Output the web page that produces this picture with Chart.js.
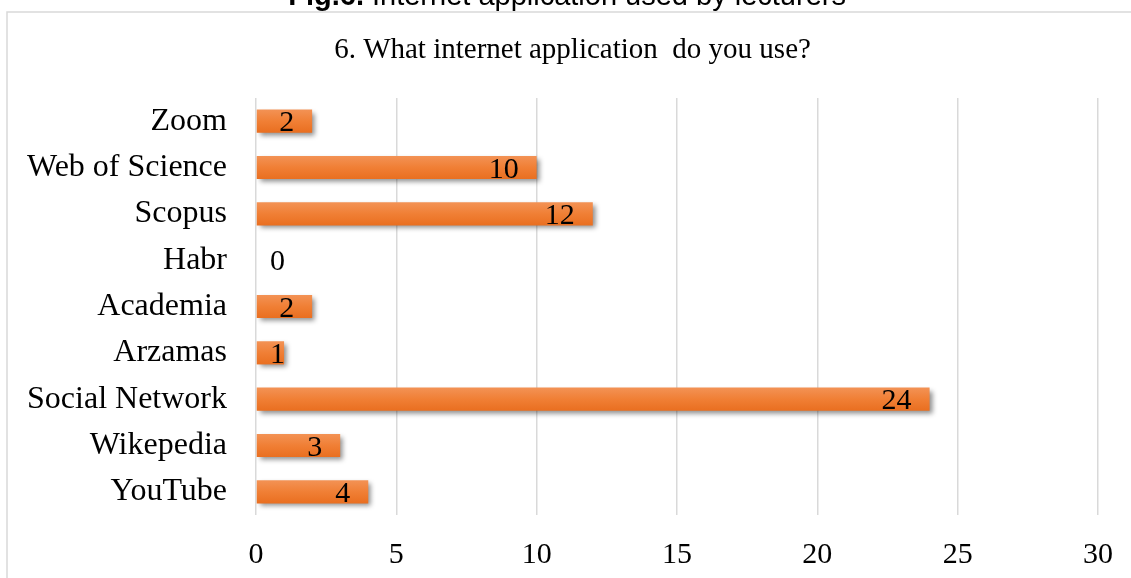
<!DOCTYPE html>
<html>
<head>
<meta charset="utf-8">
<script src="https://cdn.jsdelivr.net/npm/chart.js@4.4.1/dist/chart.umd.min.js"></script>
<style>
  html, body { margin: 0; padding: 0; background: #ffffff; overflow: hidden; }
  #wrap { width: 1131px; height: 578px; position: relative; }
</style>
</head>
<body>
<div id="wrap"><canvas id="c" width="1131" height="578"></canvas></div>
<script>
const categories = ["Zoom", "Web of Science", "Scopus", "Habr", "Academia", "Arzamas", "Social Network", "Wikepedia", "YouTube"];
const values = [2, 10, 12, 0, 2, 1, 24, 3, 4];
const xTicks = [0, 5, 10, 15, 20, 25, 30];
const chartTitle = "6. What internet application  do you use?";
const captionBold = "Fig.6.";
const captionRest = " Internet application used by lecturers";

const SERIF = "'Liberation Serif', 'Times New Roman', serif";

const framePlugin = {
  id: 'frame',
  beforeDraw(chart) {
    const ctx = chart.ctx;
    ctx.save();
    ctx.fillStyle = '#ffffff';
    ctx.fillRect(0, 0, chart.width, chart.height);
    ctx.strokeStyle = '#d9d9d9';
    ctx.lineWidth = 1.5;
    ctx.beginPath();
    ctx.moveTo(7, 600);
    ctx.lineTo(7, 12);
    ctx.lineTo(1200, 12);
    ctx.stroke();
    ctx.fillStyle = '#000000';
    ctx.textBaseline = 'alphabetic';
    ctx.textAlign = 'left';
    ctx.font = "29px 'Liberation Sans', Arial, sans-serif";
    const restX = 372;
    ctx.fillText(captionRest.trimStart(), restX, 5);
    ctx.font = "bold 29px 'Liberation Sans', Arial, sans-serif";
    const bw = ctx.measureText(captionBold + " ").width;
    ctx.fillText(captionBold, restX - bw, 5);
    ctx.restore();
  }
};

const shadowPlugin = {
  id: 'barShadow',
  beforeDatasetsDraw(chart) {
    const ctx = chart.ctx;
    ctx.save();
    ctx.shadowColor = 'rgba(0,0,0,0.45)';
    ctx.shadowBlur = 5;
    ctx.shadowOffsetX = 3;
    ctx.shadowOffsetY = 3;
  },
  afterDatasetsDraw(chart) {
    chart.ctx.restore();
    const ctx = chart.ctx;
    const meta = chart.getDatasetMeta(0);
    ctx.save();
    ctx.font = "30px " + SERIF;
    ctx.fillStyle = '#000000';
    ctx.textBaseline = 'alphabetic';
    ctx.textAlign = 'left';
    const x0 = chart.scales.x.getPixelForValue(0);
    meta.data.forEach((el, i) => {
      const txt = String(values[i]);
      const w = ctx.measureText(txt).width;
      let left = el.x - 18 - w;
      if (left < x0 + 14) left = x0 + 14;
      ctx.fillText(txt, left, el.y + 10);
    });
    ctx.restore();
  }
};

function barGradient(context) {
  const chart = context.chart;
  const y = chart.scales && chart.scales.y;
  if (!y || context.dataIndex === undefined) return '#ED7D31';
  const cy = y.getPixelForValue(context.dataIndex);
  if (!isFinite(cy)) return '#ED7D31';
  const g = chart.ctx.createLinearGradient(0, cy - 12, 0, cy + 12);
  g.addColorStop(0, '#F39356');
  g.addColorStop(0.5, '#F07F35');
  g.addColorStop(1, '#E96E1F');
  return g;
}

new Chart(document.getElementById('c'), {
  type: 'bar',
  data: {
    labels: categories,
    datasets: [{
      data: values,
      backgroundColor: barGradient,
      borderWidth: 0,
      barPercentage: 0.5,
      categoryPercentage: 1.0
    }]
  },
  plugins: [framePlugin, shadowPlugin],
  options: {
    indexAxis: 'y',
    responsive: false,
    animation: false,
    devicePixelRatio: 1,
    layout: { padding: { left: 14, right: 0, top: 0, bottom: 0 } },
    plugins: {
      legend: { display: false },
      tooltip: { enabled: false },
      title: {
        display: true,
        text: chartTitle,
        color: '#000000',
        font: { family: SERIF, size: 29, weight: 'normal', lineHeight: 1.2 },
        padding: { top: 33, bottom: 30.2 }
      }
    },
    scales: {
      x: {
        min: 0,
        max: 30,
        afterBuildTicks(scale) { scale.ticks = xTicks.map(v => ({ value: v })); },
        afterFit(scale) { scale.height = 578 - 515; scale.paddingRight = 33; scale.paddingLeft = 0; },
        grid: { color: '#d9d9d9', lineWidth: 1.5, drawTicks: false },
        border: { display: false },
        ticks: {
          color: '#000000',
          font: { family: SERIF, size: 30 },
          padding: 22,
          maxRotation: 0
        }
      },
      y: {
        afterFit(scale) { scale.width = 256 - 14; },
        grid: { display: false, drawTicks: false },
        border: { display: false },
        ticks: {
          color: '#000000',
          font: { family: SERIF, size: 32 },
          padding: 29,
          crossAlign: 'near'
        }
      }
    }
  }
});
</script>
</body>
</html>
